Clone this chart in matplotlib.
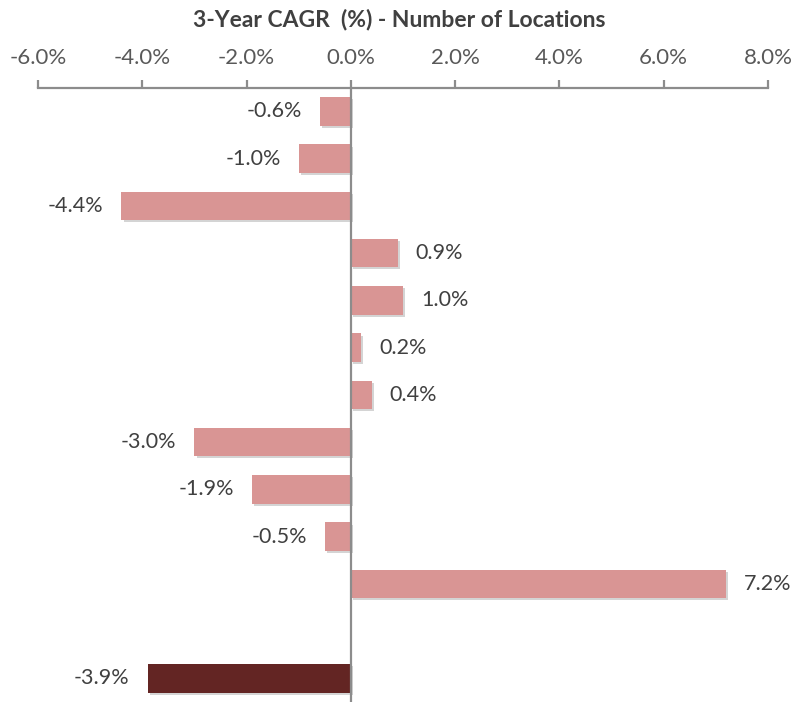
import numpy as np
import matplotlib
matplotlib.use("Agg")
import matplotlib.pyplot as plt
import matplotlib.patheffects as pe
from matplotlib.ticker import FuncFormatter

plt.rcParams['font.family'] = ['Lato', 'DejaVu Sans']

# values in percent, one per row from top; None = empty row
values = [-0.6, -1.0, -4.4, 0.9, 1.0, 0.2, 0.4, -3.0, -1.9, -0.5, 7.2, None, -3.9]
colors = ["#D99594"] * 12 + ["#632523"]
x_ticks = [-6, -4, -2, 0, 2, 4, 6, 8]

fig = plt.figure(figsize=(7.99, 7.02), dpi=100)
ax = fig.add_axes([0.0476, 0.0, 0.9136, 0.875])

pos = np.arange(len(values))
for p, v, c in zip(pos, values, colors):
    if v is None:
        continue
    bar = ax.barh(p, v, height=0.6, color=c, zorder=2)
    for patch in bar:
        patch.set_path_effects([pe.SimplePatchShadow(offset=(1.5, -1.5), alpha=0.25,
                                                     shadow_rgbFace="#555555"),
                                pe.Normal()])
    off = 13 if v >= 0 else -13
    ax.annotate(f"{v:.1f}%", (v, p), xytext=(off, 0), textcoords="offset points",
                ha="left" if v >= 0 else "right", va="center",
                fontsize=15.5, color="#404040")

ax.axvline(0, color="#8C8C8C", lw=1.6, zorder=3)
ax.set_xlim(-6, 8)
ax.set_ylim(len(values) - 0.5, -0.5)
ax.set_xticks(x_ticks)
ax.xaxis.set_major_formatter(FuncFormatter(lambda x, _: f"{x:.1f}%"))
ax.xaxis.tick_top()
ax.tick_params(axis="x", direction="out", length=6, width=1.6, color="#8C8C8C",
               labelsize=16, labelcolor="#595959", pad=8)
ax.set_yticks([])
for s in ["left", "right", "bottom"]:
    ax.spines[s].set_visible(False)
ax.spines["top"].set_color("#8C8C8C")
ax.spines["top"].set_linewidth(1.6)

fig.text(0.5, 0.972, "3-Year CAGR  (%) - Number of Locations", ha="center", va="center",
         fontsize=16.5, fontweight="bold", color="#404040")

fig.savefig("out.png", dpi=100)
